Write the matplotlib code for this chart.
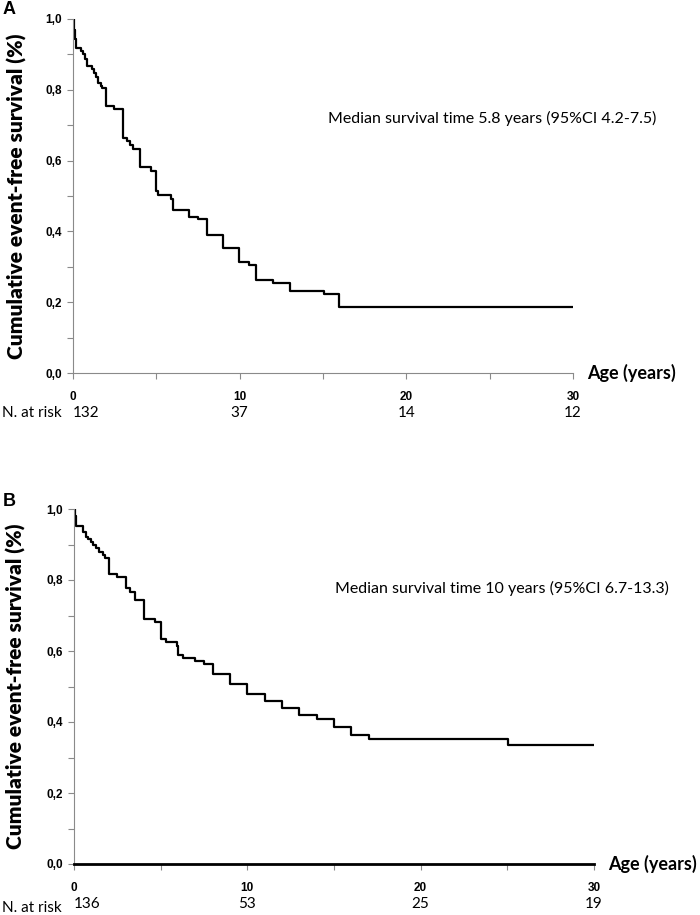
import matplotlib
matplotlib.use('Agg')
import matplotlib.pyplot as plt
from matplotlib.ticker import MultipleLocator, FixedLocator, FuncFormatter

# Panel A: event-free survival (Kaplan-Meier steps)
a_time = [0, 0.05, 0.1, 0.2, 0.46, 0.62, 0.72, 0.82, 1.12, 1.26, 1.38, 1.52, 1.66,
          1.76, 1.98, 2.48, 3.02, 3.26, 3.42, 3.62, 4.02, 4.66, 4.98, 5.12, 5.86,
          6.02, 6.98, 7.52, 8.02, 8.98, 9.98, 10.58, 10.98, 12.02, 13.02, 15.08,
          15.98, 30]
a_surv = [1.0, 0.97, 0.943, 0.917, 0.91, 0.90, 0.888, 0.868, 0.858, 0.847, 0.835,
          0.82, 0.81, 0.804, 0.755, 0.747, 0.663, 0.656, 0.644, 0.633, 0.581, 0.572,
          0.515, 0.504, 0.492, 0.461, 0.44, 0.434, 0.389, 0.353, 0.314, 0.304,
          0.264, 0.254, 0.232, 0.222, 0.186, 0.186]
a_risk_x = [0, 10, 20, 30]
a_risk = ['132', '37', '14', '12']
a_note = 'Median survival time 5.8 years (95%CI 4.2-7.5)'

# Panel B
b_time = [0, 0.05, 0.12, 0.5, 0.69, 0.83, 0.96, 1.12, 1.27, 1.46, 1.65, 1.79, 2.04,
          2.5, 3.0, 3.23, 3.52, 4.02, 4.67, 5.04, 5.31, 5.92, 5.98, 6.27, 6.98,
          7.5, 8.0, 9.0, 10.0, 11.0, 12.0, 13.0, 14.0, 15.0, 16.0, 17.0, 25.06, 30]
b_surv = [1.0, 0.98, 0.953, 0.936, 0.922, 0.915, 0.908, 0.899, 0.889, 0.88, 0.87,
          0.863, 0.816, 0.809, 0.777, 0.767, 0.744, 0.689, 0.683, 0.634, 0.624,
          0.615, 0.589, 0.581, 0.573, 0.563, 0.534, 0.507, 0.478, 0.46, 0.44,
          0.42, 0.408, 0.387, 0.362, 0.351, 0.335, 0.335]
b_risk_x = [0, 10, 20, 30]
b_risk = ['136', '53', '25', '19']
b_note = 'Median survival time 10 years (95%CI 6.7-13.3)'

label_font = ['Lato', 'DejaVu Sans']
tick_font = ['Liberation Sans Narrow', 'Liberation Sans', 'DejaVu Sans']
grey = '#8a8a8a'

fig = plt.figure(figsize=(7, 9.15), dpi=100)
axA = fig.add_axes([73/700, 1 - 373/915, 500/700, 354/915])
axB = fig.add_axes([74/700, 1 - 864/915, 520/700, 355/915])


def comma(v, pos):
    return f'{v:.1f}'.replace('.', ',')


def style(ax, time, surv, risk_x, risk, note, note_xy, letter, letter_y, thick_x):
    ax.step(time, surv, where='post', color='black', lw=1.6)
    ax.set_xlim(0, 30)
    ax.set_ylim(0, 1)
    for s in ['top', 'right']:
        ax.spines[s].set_visible(False)
    ax.spines['left'].set_color(grey)
    ax.spines['bottom'].set_color(grey)
    if thick_x:
        ax.spines['bottom'].set_color('black')
        ax.spines['bottom'].set_linewidth(2.0)
    ax.xaxis.set_major_locator(FixedLocator([0, 10, 20, 30]))
    ax.xaxis.set_minor_locator(FixedLocator([5, 15, 25]))
    ax.yaxis.set_major_locator(MultipleLocator(0.2))
    ax.yaxis.set_minor_locator(MultipleLocator(0.1))
    ax.yaxis.set_major_formatter(FuncFormatter(comma))
    ax.tick_params(which='both', color=grey, length=4, width=0.8, direction='out')
    ax.tick_params(axis='y', pad=4)
    ax.tick_params(axis='x', pad=9)
    for lab in ax.get_xticklabels() + ax.get_yticklabels():
        lab.set_family(tick_font)
        lab.set_fontweight('bold')
        lab.set_fontsize(8.5)
    ax.set_ylabel('Cumulative event-free survival (%)', family=label_font,
                  fontweight='heavy', fontsize=15)
    ax.yaxis.set_label_coords(-0.092, 0.5)
    ax.text(1.028, 0.0, 'Age (years)', transform=ax.transAxes, ha='left',
            va='center', family=label_font, fontweight='bold', fontsize=13)
    ax.text(note_xy[0], note_xy[1], note, transform=ax.transAxes, ha='center',
            va='center', family=label_font, fontsize=11.5)
    tr = ax.get_xaxis_transform()
    for i, (x, r) in enumerate(zip(risk_x, risk)):
        ax.text(x, -0.113, r, transform=tr,
                ha='left' if i == 0 else 'center', va='center',
                family=label_font, fontsize=11)
    fig.text(3/700, letter_y, letter, family=['Liberation Sans', 'DejaVu Sans'],
             fontweight='bold', fontsize=13, ha='left', va='center')


style(axA, a_time, a_surv, a_risk_x, a_risk, a_note, (0.838, 0.72), 'A', 1 - 10/915, False)
style(axB, b_time, b_surv, b_risk_x, b_risk, b_note, (0.823, 0.775), 'B', 1 - 502/915, True)

fig.text(2/700, 1 - 413/915, 'N. at risk', family=label_font, fontsize=11,
         ha='left', va='center')
fig.text(2/700, 1 - 908/915, 'N. at risk', family=label_font, fontsize=11,
         ha='left', va='center')

fig.savefig('out.png', dpi=100)
